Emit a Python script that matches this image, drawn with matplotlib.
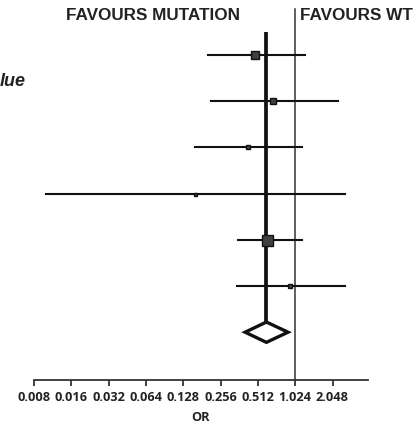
import matplotlib
matplotlib.use("Agg")
import matplotlib.pyplot as plt
from matplotlib.ticker import FixedLocator, FixedFormatter
import numpy as np

# Data
studies = ["Study 1", "Study 2", "Study 3", "Study 4", "Study 5", "Study 6"]
odds_ratio = [0.486, 0.679, 0.427, 0.159, 0.607, 0.93]
ci_low = [0.203, 0.215, 0.159, 0.010, 0.354, 0.348]
ci_high = [1.23, 2.27, 1.16, 2.59, 1.16, 2.59]
weights = [8, 6, 5, 3, 11, 5]  # square size (px)
pooled_or = 0.60
pooled_low = 0.404
pooled_high = 0.896
tick_values = [0.008, 0.016, 0.032, 0.064, 0.128, 0.256, 0.512, 1.024, 2.048]
tick_labels = ["0.008", "0.016", "0.032", "0.064", "0.128", "0.256", "0.512", "1.024", "2.048"]

W, H = 418, 424
fig = plt.figure(figsize=(W / 100, H / 100), dpi=100)

ax_left, ax_right = 34, 368
ax_bottom_px = 380
ax = fig.add_axes([ax_left / W, 1 - ax_bottom_px / H, (ax_right - ax_left) / W, ax_bottom_px / H])
ax.set_xscale("log", base=2)
ax.set_xlim(0.008, 3.96)
row_px0, row_step = 55, 46.2
y_top = 1 - row_px0 / row_step
y_bot = 1 + (ax_bottom_px - row_px0) / row_step
ax.set_ylim(y_bot, y_top)

for sp in ["left", "top", "right"]:
    ax.spines[sp].set_visible(False)
ax.spines["bottom"].set_linewidth(1.3)
ax.spines["bottom"].set_color("#333333")
ax.set_yticks([])

ax.xaxis.set_major_locator(FixedLocator(tick_values))
ax.xaxis.set_major_formatter(FixedFormatter(tick_labels))
ax.xaxis.set_minor_locator(FixedLocator([]))
ax.tick_params(axis="x", direction="out", length=4, width=1.3, color="#333333",
               labelsize=9.2, pad=4)
for lab in ax.get_xticklabels():
    lab.set_fontweight("bold")
    lab.set_fontfamily("Open Sans")
    lab.set_color("#222222")
ax.set_xlabel("OR", fontsize=9.2, fontweight="bold", family="Open Sans", color="#222222", labelpad=5)

# reference line at 1.024
ax.axvline(1.024, ymin=0, ymax=(ax_bottom_px - 9) / ax_bottom_px, color="#333333", lw=1.1)

# pooled vertical line
ax.plot([pooled_or, pooled_or], [0.5, 6.78], color="#111111", lw=2.7, solid_capstyle="butt", zorder=2)

rows = np.arange(1, len(studies) + 1)
for r, o, lo, hi, w in zip(rows, odds_ratio, ci_low, ci_high, weights):
    ax.plot([lo, hi], [r, r], color="#111111", lw=1.5, zorder=3)
    ax.plot([o], [r], marker="s", markersize=w * 0.72, markerfacecolor="#404040",
            markeredgecolor="#111111", markeredgewidth=1.0, zorder=4)

# diamond
dy = 0.22
r7 = len(studies) + 1
ax.fill([pooled_low, pooled_or, pooled_high, pooled_or, pooled_low],
        [r7, r7 - dy, r7, r7 + dy, r7], facecolor="white", edgecolor="#111111",
        lw=2.4, zorder=5, joinstyle="miter")

fig.text(153 / W, 1 - 16 / H, "FAVOURS MUTATION", ha="center", va="center",
         fontsize=12.3, fontweight="bold", family="Liberation Sans", color="#222222")
fig.text(300 / W, 1 - 16 / H, "FAVOURS WT", ha="left", va="center",
         fontsize=12.3, fontweight="bold", family="Liberation Sans", color="#222222")
fig.text(0 / W, 1 - 82 / H, "lue", ha="left", va="center",
         fontsize=13, fontweight="bold", fontstyle="italic", family="Liberation Sans", color="#222222")

fig.savefig("out.png", dpi=100)
